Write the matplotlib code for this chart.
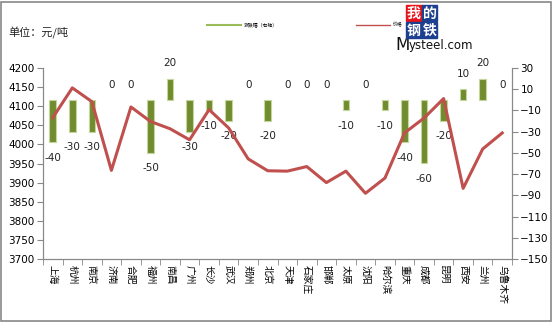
import matplotlib
matplotlib.use("Agg")
import matplotlib.pyplot as plt
from matplotlib.lines import Line2D
from matplotlib.patches import Rectangle

plt.rcParams['font.family'] = ['Noto Sans CJK SC', 'DejaVu Sans']

cities = ["上海", "杭州", "南京", "济南", "合肥", "福州", "南昌", "广州", "长沙", "武汉",
          "郑州", "北京", "天津", "石家庄", "邯郸", "太原", "沈阳", "哈尔滨", "重庆", "成都",
          "昆明", "西安", "兰州", "乌鲁木齐"]
price = [4070, 4148, 4112, 3932, 4098, 4060, 4041, 4012, 4091, 4043,
         3962, 3931, 3930, 3942, 3900, 3930, 3872, 3912, 4030, 4069,
         4120, 3885, 3988, 4030]
change = [-40, -30, -30, 0, 0, -50, 20, -30, -10, -20,
          0, -20, 0, 0, 0, -10, 0, -10, -40, -60,
          -20, 10, 20, 0]
left_ticks = list(range(3700, 4201, 50))
right_ticks = list(range(-150, 31, 20))
legend_labels = ["涨跌幅（右轴）", "价格"]

W, H = 554, 323
fig = plt.figure(figsize=(W / 100, H / 100), dpi=100)
ax1 = fig.add_axes([43 / W, 1 - 259 / H, (512 - 43) / W, (259 - 68) / H])
ax2 = ax1.twinx()

x = list(range(len(cities)))
green = '#718c2f'
edges = ['#c3d69b' if v != 0 else 'none' for v in change]
ax2.bar(x, change, width=0.34, color=green, edgecolor=edges, linewidth=0.8, zorder=2)
for xi, v in zip(x, change):
    off = -11 if v < 0 else 11
    ax2.annotate(str(v), (xi, v), xytext=(0, off), textcoords='offset points',
                 ha='center', va='center', fontsize=7.5, color='#222222',
                 family=['DejaVu Sans'])

ax1.plot(x, price, color='#c0504d', linewidth=2.2, zorder=3, solid_joinstyle='round')
ax1.set_zorder(ax2.get_zorder() + 1)
ax1.patch.set_visible(False)

ax1.set_xlim(-0.5, len(cities) - 0.5)
ax1.set_ylim(3700, 4200)
ax2.set_ylim(-150, 30)
ax1.set_yticks(left_ticks)
ax2.set_yticks(right_ticks)
ax1.set_xticks(x)
ax1.set_xticklabels(cities, rotation=-90, fontsize=7)
ax1.set_xticks([i - 0.5 for i in range(len(cities) + 1)], minor=True)
ax1.tick_params(axis='x', which='major', length=0, pad=4)
ax1.tick_params(axis='x', which='minor', length=4, color='#888888')
ax1.tick_params(axis='y', labelsize=7.5, length=4, color='#888888', pad=2)
ax2.tick_params(axis='y', labelsize=7.5, length=4, color='#888888', pad=2)
for lbl in ax1.get_yticklabels() + ax2.get_yticklabels():
    lbl.set_family(['DejaVu Sans'])

for a in (ax1, ax2):
    a.spines['top'].set_visible(False)
    for s in ('left', 'right', 'bottom'):
        a.spines[s].set_color('#888888')
        a.spines[s].set_linewidth(0.8)

handles = [Line2D([], [], color='#9bbb59', linewidth=1.5),
           Line2D([], [], color='#c0504d', linewidth=1.0)]
fig.legend(handles, legend_labels, loc='center', bbox_to_anchor=(305 / W, 1 - 25 / H),
           ncol=2, fontsize=3.5, frameon=False, handlelength=7, columnspacing=16,
           handletextpad=0.6)

fig.text(8 / W, 1 - 33 / H, "单位：元/吨", fontsize=8, va='center', ha='left', color='#222222')

# logo
for (lx, ly, ch, col) in [(406, 5, "我", '#e8141b'), (422, 5, "的", '#1d3f8f'),
                          (406, 22, "钢", '#1d3f8f'), (422, 22, "铁", '#1d3f8f')]:
    fig.patches.append(Rectangle((lx / W, 1 - (ly + 16) / H), 15.5 / W, 16 / H,
                                 transform=fig.transFigure, color=col, zorder=5))
    fig.text((lx + 7.75) / W, 1 - (ly + 8.5) / H, ch, color='white', fontsize=10,
             fontweight='bold', ha='center', va='center', zorder=6,
             family=['Noto Sans CJK SC'])
fig.text(395 / W, 1 - 45 / H, "M", fontsize=12, ha='left', va='center', color='#111111',
         family=['DejaVu Sans'])
fig.text(409 / W, 1 - 46 / H, "ysteel.com", fontsize=8.5, ha='left', va='center',
         color='#111111', family=['DejaVu Sans'])

fig.patches.append(Rectangle((0.5 / W, 2 / H), (W - 4) / W, (H - 3.5) / H,
                             transform=fig.transFigure, fill=False,
                             edgecolor='#888888', linewidth=1.2))

fig.savefig("out.png", dpi=100)
